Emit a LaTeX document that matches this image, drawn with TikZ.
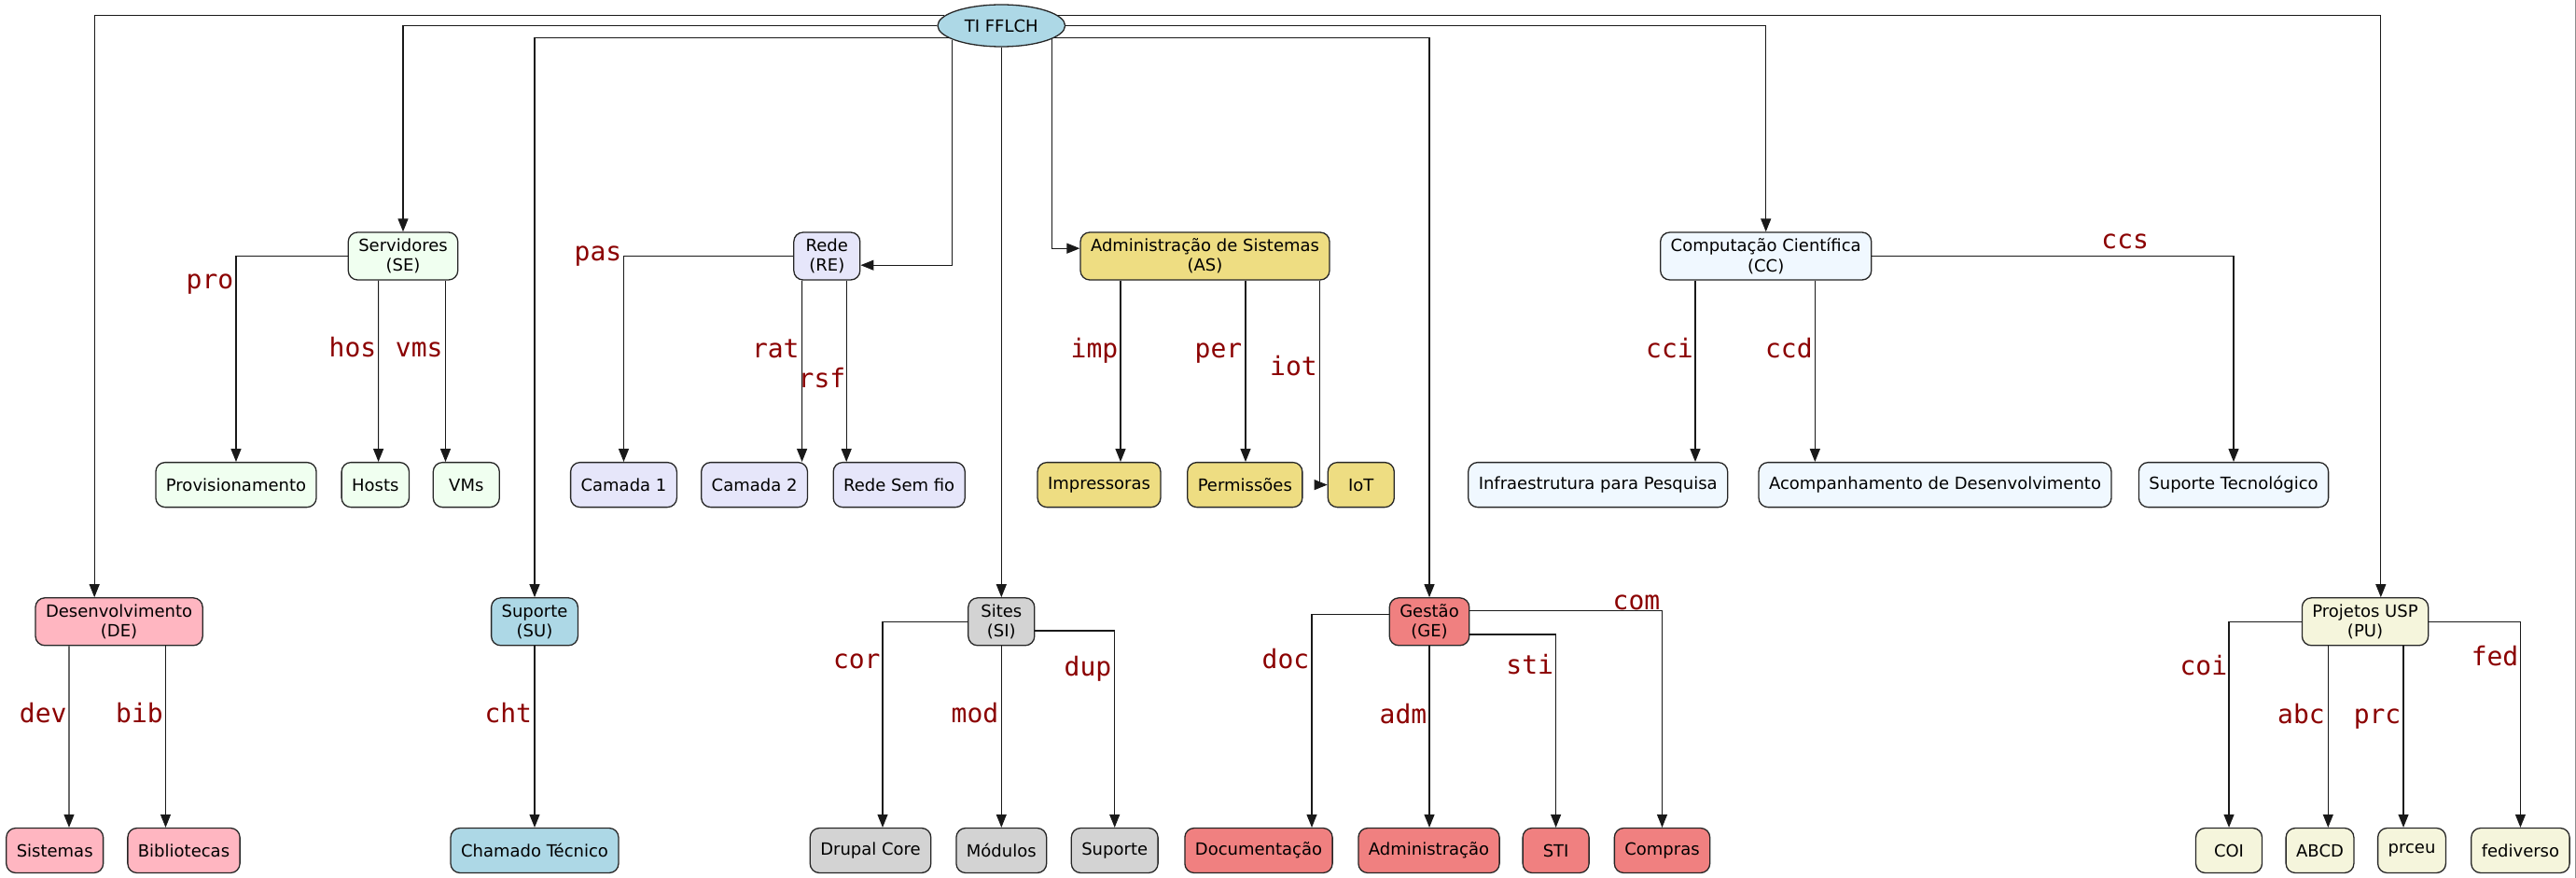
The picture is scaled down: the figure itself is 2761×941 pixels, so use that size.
\documentclass[tikz,border=0pt]{standalone}
\usepackage{fontspec}
\setmainfont{DejaVu Sans}
\newfontfamily\lblfont{DejaVu Sans Mono}
\usetikzlibrary{arrows.meta,shapes.geometric,calc}
\definecolor{cLightblue}{HTML}{ADD8E6}
\definecolor{cHoneydew}{HTML}{F0FFF0}
\definecolor{cLavender}{HTML}{E6E6FA}
\definecolor{cGold}{HTML}{EEDD82}
\definecolor{cAlice}{HTML}{F0F8FF}
\definecolor{cPink}{HTML}{FFB6C1}
\definecolor{cGray}{HTML}{D3D3D3}
\definecolor{cCoral}{HTML}{F08080}
\definecolor{cBeige}{HTML}{F5F5DC}
\definecolor{lblred}{HTML}{8B0000}
\begin{document}
\begin{tikzpicture}[x=0.5pt,y=-0.5pt,
  box/.style={draw=black!85, line width=0.65pt, rounded corners=5pt, align=center,
    font=\fontsize{9}{10.65}\selectfont, inner xsep=5.5pt, inner ysep=2pt,
    minimum width=35.5pt, minimum height=24pt},
  two/.style={box, minimum height=25.5pt},
  arr/.style={draw=black!90, line width=0.55pt, -{Triangle[length=7pt,width=5.5pt]}},
  lbl/.style={font=\lblfont\fontsize{14}{14}\selectfont, text=lblred, anchor=base, inner sep=0pt},
]
\useasboundingbox[fill=white] (0,0) rectangle (2761,941);
\draw[black!45, line width=0.5pt] (2760,0) -- (2760,941);

% root
\node[ellipse, draw=black!85, line width=0.65pt, fill=cLightblue, minimum width=68.3pt, minimum height=22.5pt, inner sep=0pt, font=\fontsize{9}{10.65}\selectfont] (TI) at (1073.3,27.5) {TI FFLCH};

% row 1
\node[two, fill=cHoneydew] (SE) at (432,274.5) {Servidores\\(SE)};
\node[two, fill=cLavender] (RE) at (886.3,274.5) {Rede\\(RE)};
\node[two, fill=cGold] (AS) at (1291.5,274.5) {Administração de Sistemas\\(AS)};
\node[two, fill=cAlice] (CC) at (1892.7,274.5) {Computação Científica\\(CC)};

% row 2
\node[box, fill=cHoneydew] (Prov) at (253,519.6) {Provisionamento};
\node[box, fill=cHoneydew] (Hosts) at (402.3,519.6) {Hosts};
\node[box, fill=cHoneydew] (VMs) at (499.8,519.6) {VMs};
\node[box, fill=cLavender] (C1) at (668.5,519.6) {Camada 1};
\node[box, fill=cLavender] (C2) at (808.6,519.6) {Camada 2};
\node[box, fill=cLavender] (RSF) at (963.7,519.6) {Rede Sem fio};
\node[box, fill=cGold] (Imp) at (1178,519.6) {Impressoras};
\node[box, fill=cGold] (Perm) at (1334.3,519.6) {Permissões};
\node[box, fill=cGold] (IoT) at (1458.8,519.6) {IoT};
\node[box, fill=cAlice] (Infra) at (1712.7,519.6) {Infraestrutura para Pesquisa};
\node[box, fill=cAlice] (Acomp) at (2074,519.6) {Acompanhamento de Desenvolvimento};
\node[box, fill=cAlice] (SupTec) at (2394,519.6) {Suporte Tecnológico};

% row 3
\node[two, fill=cPink] (DE) at (127.6,666.3) {Desenvolvimento\\(DE)};
\node[two, fill=cLightblue] (SU) at (573,666.3) {Suporte\\(SU)};
\node[two, fill=cGray] (SI) at (1073.3,666.3) {Sites\\(SI)};
\node[two, fill=cCoral] (GE) at (1532,666.3) {Gestão\\(GE)};
\node[two, fill=cBeige] (PU) at (2535,666.3) {Projetos USP\\(PU)};

% row 4
\node[box, fill=cPink] (Sist) at (58.7,911.5) {Sistemas};
\node[box, fill=cPink] (Bib) at (197,911.5) {Bibliotecas};
\node[box, fill=cLightblue] (CT) at (573,911.5) {Chamado Técnico};
\node[box, fill=cGray] (DC) at (933,911.5) {Drupal Core};
\node[box, fill=cGray] (Mod) at (1073.3,911.5) {Módulos};
\node[box, fill=cGray] (Sup) at (1194.7,911.5) {Suporte};
\node[box, fill=cCoral] (Doc) at (1349,911.5) {Documentação};
\node[box, fill=cCoral] (Adm) at (1531.5,911.5) {Administração};
\node[box, fill=cCoral] (STI) at (1667.6,911.5) {STI};
\node[box, fill=cCoral] (Com) at (1781.5,911.5) {Compras};
\node[box, fill=cBeige] (COI) at (2389,911.5) {COI};
\node[box, fill=cBeige] (ABCD) at (2486.5,911.5) {ABCD};
\node[box, fill=cBeige] (Prceu) at (2585,911.5) {prceu};
\node[box, fill=cBeige] (Fed) at (2701.4,911.5) {fediverso};

% root edges
\draw[arr] (TI.170) -| ([xshift=-13.2pt]DE.north);
\draw[arr] (TI.west) -| (SE.north);
\draw[arr] (TI.193) -| (SU.north);
\draw[arr] (TI.196) |- ([yshift=-4.85pt]RE.east);
\draw[arr] (TI.south) -- (SI.north);
\draw[arr] (TI.-15) |- ([yshift=4.15pt]AS.west);
\draw[arr] (TI.-13) -| (GE.north);
\draw[arr] (TI.east) -| (CC.north);
\draw[arr] (TI.10) -| ([xshift=8.4pt]PU.north);

% SE
\draw[arr] (SE.west) -| (Prov.north);
\draw[arr] ([xshift=-13.2pt]SE.south) -- ([xshift=1.65pt]Hosts.north);
\draw[arr] ([xshift=22.75pt]SE.south) -- ([xshift=-11.15pt]VMs.north);
% RE
\draw[arr] (RE.west) -| (C1.north);
\draw[arr] ([xshift=-13.35pt]RE.south) -- ([xshift=25.5pt]C2.north);
\draw[arr] ([xshift=10.45pt]RE.south) -- ([xshift=-28.25pt]RSF.north);
% AS
\draw[arr] ([xshift=-45.25pt]AS.south) -- ([xshift=11.5pt]Imp.north);
\draw[arr] ([xshift=21.75pt]AS.south) -- ([xshift=0.35pt]Perm.north);
\draw[arr] ([xshift=61.4pt]AS.south) |- (IoT.west);
% CC
\draw[arr] ([xshift=-37.85pt]CC.south) -- ([xshift=52.15pt]Infra.north);
\draw[arr] ([xshift=26.3pt]CC.south) -- ([xshift=-64.35pt]Acomp.north);
\draw[arr] (CC.east) -| (SupTec.north);
% DE
\draw[arr] ([xshift=-26.8pt]DE.south) -- ([xshift=7.65pt]Sist.north);
\draw[arr] ([xshift=24.95pt]DE.south) -- ([xshift=-9.75pt]Bib.north);
% SU
\draw[arr] (SU.south) -- (CT.north);
% SI
\draw[arr] (SI.west) -| ([xshift=6.5pt]DC.north);
\draw[arr] (SI.south) -- (Mod.north);
\draw[arr] ([yshift=-4.85pt]SI.east) -| (Sup.north);
% GE
\draw[arr] ([yshift=3.8pt]GE.west) -| ([xshift=28.5pt]Doc.north);
\draw[arr] (GE.south) -- ([xshift=0.25pt]Adm.north);
\draw[arr] ([yshift=-6.85pt]GE.east) -| (STI.north);
\draw[arr] ([yshift=6pt]GE.east) -| (Com.north);
% PU
\draw[arr] (PU.west) -| (COI.north);
\draw[arr] ([xshift=-19.85pt]PU.south) -- ([xshift=4.4pt]ABCD.north);
\draw[arr] ([xshift=20.5pt]PU.south) -- ([xshift=-4.5pt]Prceu.north);
\draw[arr] (PU.east) -| (Fed.north);

% edge labels
\node[lbl] (lpro) at (225,309) {pro};
\node[lbl] (lhos) at (378,382.5) {hos};
\node[lbl] (lvms) at (449.2,382.5) {vms};
\node[lbl] (lpas) at (641,279) {pas};
\node[lbl] (lrat) at (831.3,383) {rat};
\node[lbl] (lrsf) at (881,415) {rsf};
\node[lbl] (limp) at (1173,383) {imp};
\node[lbl] (lper) at (1306,383) {per};
\node[lbl] (liot) at (1386.5,402) {iot};
\node[lbl] (lcci) at (1789.5,383) {cci};
\node[lbl] (lccd) at (1917.4,383) {ccd};
\node[lbl] (lccs) at (2277.7,266) {ccs};
\node[lbl] (ldev) at (46.2,774) {dev};
\node[lbl] (lbib) at (149.5,774) {bib};
\node[lbl] (lcht) at (544.8,774) {cht};
\node[lbl] (lcor) at (918.3,716.7) {cor};
\node[lbl] (lmod) at (1045,774) {mod};
\node[lbl] (ldup) at (1166,724) {dup};
\node[lbl] (ldoc) at (1378,716.7) {doc};
\node[lbl] (ladm) at (1504,775) {adm};
\node[lbl] (lsti) at (1639.7,722) {sti};
\node[lbl] (lcom) at (1754,653) {com};
\node[lbl] (lcoi) at (2361.8,723) {coi};
\node[lbl] (labc) at (2466.5,775) {abc};
\node[lbl] (lprc) at (2548,775) {prc};
\node[lbl] (lfed) at (2674,713) {fed};
\end{tikzpicture}
\end{document}
